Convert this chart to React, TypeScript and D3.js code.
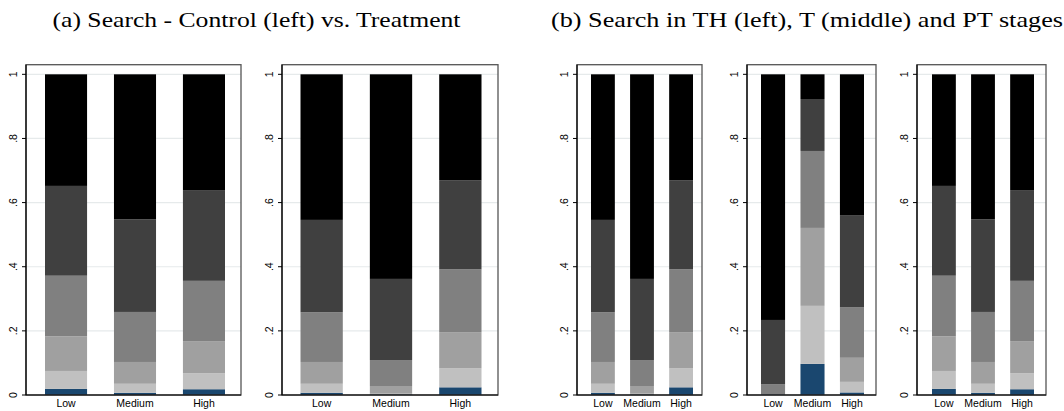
import { useEffect, useRef } from 'react';
import * as d3 from 'd3';

// categories and stacked shares (bottom -> top)
const categories = ['Low', 'Medium', 'High'];
const segmentKeys = ['s1', 's2', 's3', 's4', 's5', 's6'];
const segmentColors = ['#1a476f', '#c0c0c0', '#a0a0a0', '#808080', '#404040', '#000000'];

const yTicks = [0, 0.2, 0.4, 0.6, 0.8, 1];
const yTickLabels = ['0', '.2', '.4', '.6', '.8', '1'];

// (a) left: control
const controlLow = [0.019, 0.056, 0.108, 0.189, 0.280, 0.348];
const controlMedium = [0.007, 0.028, 0.068, 0.156, 0.289, 0.452];
const controlHigh = [0.018, 0.050, 0.100, 0.188, 0.283, 0.361];

// (a) right: treatment
const treatLow = [0.007, 0.028, 0.068, 0.155, 0.288, 0.454];
const treatMedium = [0.002, 0.002, 0.024, 0.081, 0.253, 0.638];
const treatHigh = [0.024, 0.059, 0.113, 0.196, 0.277, 0.331];

// (b) TH stage
const thLow = [0.007, 0.028, 0.068, 0.155, 0.288, 0.454];
const thMedium = [0.002, 0.002, 0.024, 0.081, 0.253, 0.638];
const thHigh = [0.024, 0.059, 0.113, 0.196, 0.277, 0.331];

// (b) T stage
const tLow = [0.002, 0.0, 0.0, 0.032, 0.200, 0.766];
const tMedium = [0.097, 0.181, 0.243, 0.240, 0.162, 0.077];
const tHigh = [0.008, 0.033, 0.075, 0.158, 0.287, 0.439];

// (b) PT stage
const ptLow = [0.019, 0.056, 0.108, 0.189, 0.280, 0.348];
const ptMedium = [0.007, 0.028, 0.068, 0.156, 0.289, 0.452];
const ptHigh = [0.018, 0.050, 0.100, 0.188, 0.283, 0.361];

const panels = [
  { rows: [controlLow, controlMedium, controlHigh], left: 26, right: 241, gapL: 19, gapR: 16 },
  { rows: [treatLow, treatMedium, treatHigh], left: 282, right: 498, gapL: 18.5, gapR: 16.5 },
  { rows: [thLow, thMedium, thHigh], left: 577, right: 702, gapL: 14, gapR: 9 },
  { rows: [tLow, tMedium, tHigh], left: 747, right: 876, gapL: 14, gapR: 12 },
  { rows: [ptLow, ptMedium, ptHigh], left: 917, right: 1046, gapL: 15, gapR: 12 },
];

const titles = [
  { text: '(a) Search - Control (left) vs. Treatment', x: 52.5, len: 408 },
  { text: '(b) Search in TH (left), T (middle) and PT stages', x: 551, len: 512 },
];

export default function App() {
  const svgRef = useRef<SVGSVGElement>(null);

  useEffect(() => {
    if (!svgRef.current) return;
    const width = 1064;
    const height = 411;
    const svg = d3.select(svgRef.current);
    svg.selectAll('*').remove();
    svg.attr('width', width).attr('height', height);

    svg.append('rect').attr('width', width).attr('height', height).attr('fill', '#ffffff');

    const top = 64.7;
    const bottom = 395;
    const y = d3.scaleLinear().domain([0, 1.03]).range([bottom, top]);

    // titles
    titles.forEach(t => {
      svg.append('text')
        .attr('x', t.x)
        .attr('y', 27)
        .attr('textLength', t.len)
        .attr('lengthAdjust', 'spacingAndGlyphs')
        .style('font-family', '"Liberation Serif", "DejaVu Serif", serif')
        .style('font-size', '21.5px')
        .attr('fill', '#000')
        .text(t.text);
    });

    const stack = d3.stack<number[]>()
      .keys(segmentKeys)
      .value((d, key) => d[segmentKeys.indexOf(key)]);

    panels.forEach(p => {
      const g = svg.append('g');

      // gridlines
      g.selectAll('.grid')
        .data(yTicks)
        .join('line')
        .attr('x1', p.left)
        .attr('x2', p.right)
        .attr('y1', d => y(d))
        .attr('y2', d => y(d))
        .attr('stroke', '#e6eaeb')
        .attr('stroke-width', 1.2);

      const x = d3.scaleBand<string>()
        .domain(categories)
        .range([p.left + p.gapL, p.right - p.gapR])
        .paddingInner(0.39)
        .paddingOuter(0);

      const series = stack(p.rows);
      series.forEach((s, si) => {
        g.selectAll(null)
          .data(s)
          .join('rect')
          .attr('x', (_, i) => x(categories[i])!)
          .attr('width', x.bandwidth())
          .attr('y', d => y(d[1]))
          .attr('height', d => Math.max(0, y(d[0]) - y(d[1])))
          .attr('fill', segmentColors[si]);
      });

      // frame
      g.append('rect')
        .attr('x', p.left)
        .attr('y', top)
        .attr('width', p.right - p.left)
        .attr('height', bottom - top)
        .attr('fill', 'none')
        .attr('stroke', '#555')
        .attr('stroke-width', 1.3);

      // axes
      g.append('line')
        .attr('x1', p.left).attr('x2', p.left)
        .attr('y1', top).attr('y2', bottom)
        .attr('stroke', '#000').attr('stroke-width', 1.2);
      g.append('line')
        .attr('x1', p.left).attr('x2', p.right)
        .attr('y1', bottom).attr('y2', bottom)
        .attr('stroke', '#000').attr('stroke-width', 1.2);

      // y ticks
      g.selectAll('.tick')
        .data(yTicks)
        .join('line')
        .attr('x1', p.left - 4)
        .attr('x2', p.left)
        .attr('y1', d => y(d))
        .attr('y2', d => y(d))
        .attr('stroke', '#000');

      g.selectAll('.tl')
        .data(yTicks)
        .join('text')
        .attr('transform', d => `translate(${p.left - 9},${y(d)}) rotate(-90)`)
        .attr('text-anchor', 'middle')
        .style('font-family', '"Liberation Sans", Arial, sans-serif')
        .style('font-size', '10.5px')
        .attr('fill', '#000')
        .text((_, i) => yTickLabels[i]);

      // x labels
      g.selectAll('.xl')
        .data(categories)
        .join('text')
        .attr('x', d => x(d)! + x.bandwidth() / 2)
        .attr('y', 407)
        .attr('text-anchor', 'middle')
        .style('font-family', '"Liberation Sans", Arial, sans-serif')
        .style('font-size', '10.5px')
        .attr('fill', '#000')
        .text(d => d);
    });
  }, []);

  return (
    <div style={{ position: 'absolute', left: 0, top: 0 }}>
      <svg ref={svgRef} style={{ display: 'block' }} />
    </div>
  );
}
